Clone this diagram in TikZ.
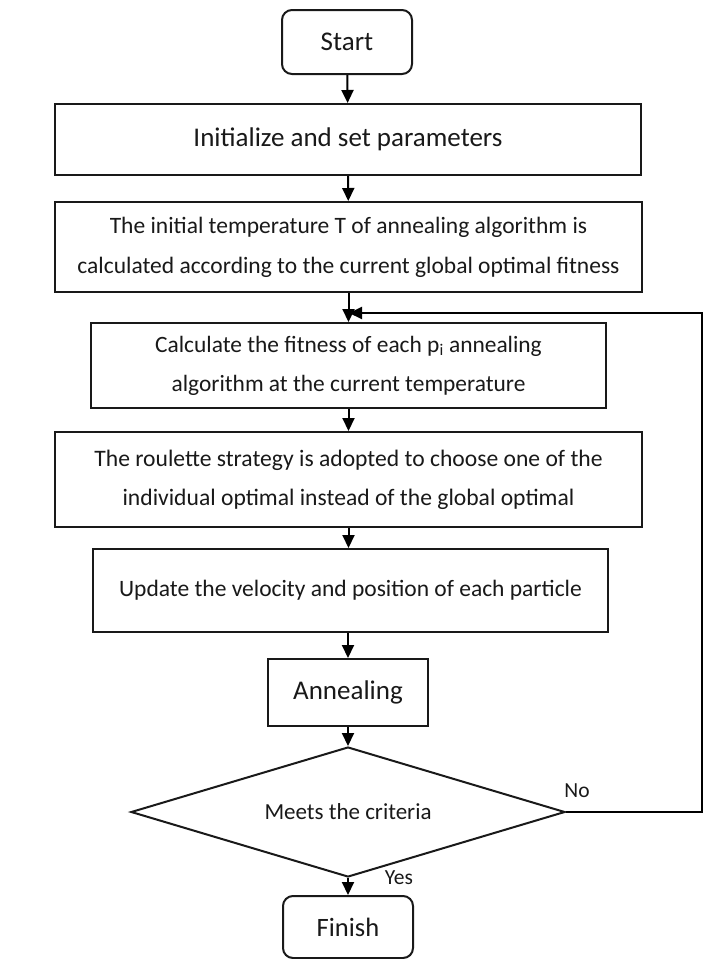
\documentclass[tikz,border=0pt]{standalone}
\usepackage{fontspec}
\setmainfont{Carlito}
\usetikzlibrary{shapes.geometric,arrows.meta}
\begin{document}
\begin{tikzpicture}[x=1pt,y=-1pt,
  box/.style={draw=black!90,line width=2pt,fill=white,align=center,inner sep=0pt,text=black!90},
  term/.style={box,rounded corners=10pt},
  dec/.style={draw=black!90,line width=2pt,shape=diamond,aspect=3.3,inner sep=0pt,text=black!90},
  flow/.style={draw=black,line width=2pt,-{Triangle[width=12pt,length=13pt]}},
  lbl/.style={text=black!90,font=\fontsize{21.5}{25}\selectfont,inner sep=0pt}]
\useasboundingbox (0,0) rectangle (718,959);
\node[term,minimum width=130pt,minimum height=64pt,font=\fontsize{27}{32}\selectfont] (start) at (347,42) {Start};
\node[box,minimum width=586pt,minimum height=71pt,font=\fontsize{27}{32}\selectfont] (init) at (348,139.5) {Initialize and set parameters};
\node[box,minimum width=587pt,minimum height=90pt,font=\fontsize{23.5}{40}\selectfont] (temp) at (348.5,247) {The initial temperature T of annealing algorithm is\\calculated according to the current global optimal fitness};
\node[box,minimum width=515pt,minimum height=85pt,font=\fontsize{23.4}{39}\selectfont] (fit) at (348.5,365.5) {Calculate the fitness of each p\textsubscript{i} annealing\\algorithm at the current temperature};
\node[box,minimum width=587pt,minimum height=95pt,font=\fontsize{23.6}{39}\selectfont] (roul) at (348.5,479.5) {The roulette strategy is adopted to choose one of the\\individual optimal instead of the global optimal};
\node[box,minimum width=515pt,minimum height=83pt,font=\fontsize{23.5}{28}\selectfont] (upd) at (350.5,590.5) {Update the velocity and position of each particle};
\node[box,minimum width=160pt,minimum height=67pt,font=\fontsize{27}{32}\selectfont] (ann) at (348,692.5) {Annealing};
\node[dec,minimum width=434pt,minimum height=130pt,font=\fontsize{23}{28}\selectfont] (crit) at (348,812) {Meets the criteria};
\node[term,minimum width=130pt,minimum height=62pt,font=\fontsize{26.5}{32}\selectfont] (fin) at (348,927) {Finish};
\coordinate (lr) at (702,812);
\coordinate (lt) at (702,313);
\coordinate (lj) at (349,313);
\draw[flow] (start) -- (init);
\draw[flow] (init) -- (temp);
\draw[flow] (temp.south) -- (temp.south |- fit.north);
\draw[flow] (fit.south) -- (fit.south |- roul.north);
\draw[flow] (roul.south) -- (roul.south |- upd.north);
\draw[flow] (ann.north |- upd.south) -- (ann.north);
\draw[flow] (ann) -- (crit);
\draw[flow] (crit) -- (fin);
\draw[flow] (crit.east) -- (lr) -- (lt) -- (lj);
\node[lbl] (no) at (577,791) {No};
\node[lbl] (yes) at (399,878) {Yes};
\end{tikzpicture}
\end{document}
